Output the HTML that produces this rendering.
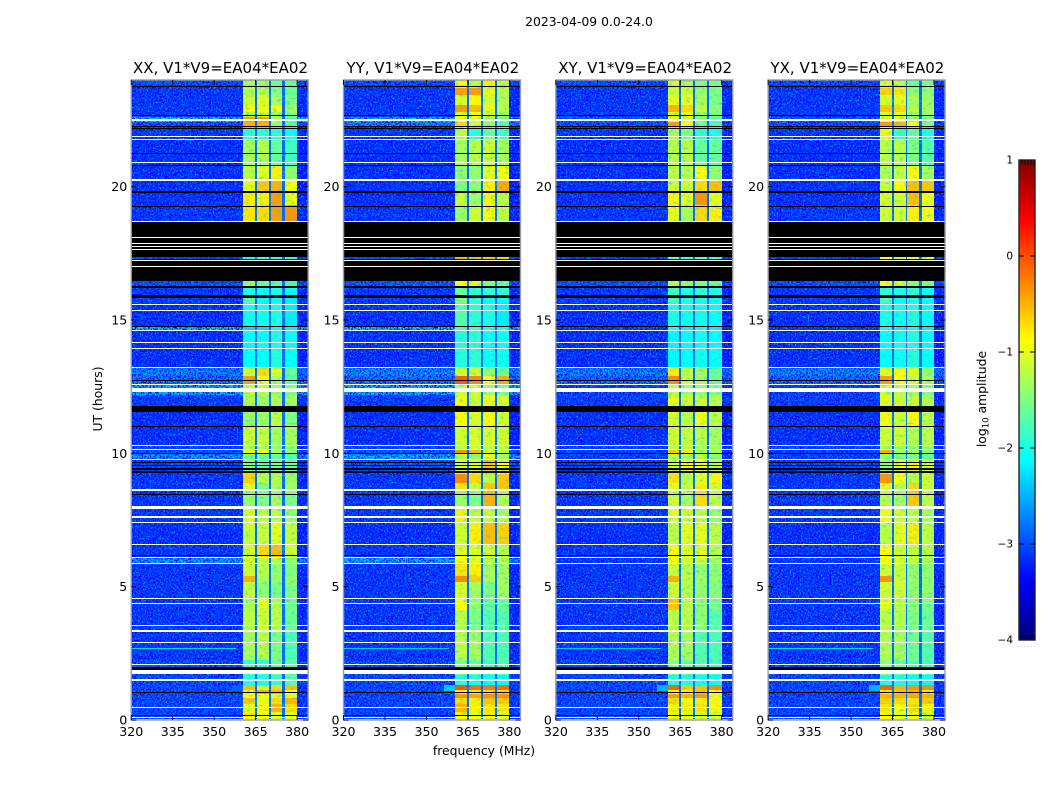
<!DOCTYPE html>
<html><head><meta charset="utf-8"><title>Spectrogram</title>
<style>
html,body{margin:0;padding:0;background:#fff;width:1050px;height:800px;overflow:hidden}
svg{display:block}
text{font-family:"DejaVu Sans","Liberation Sans",sans-serif;fill:#000}
</style></head>
<body>
<svg id="fig" xmlns="http://www.w3.org/2000/svg" width="1050" height="800" viewBox="0 0 1050 800">
<defs>
<filter id="speckle" x="0" y="0" width="1" height="1" color-interpolation-filters="sRGB">
<feTurbulence type="fractalNoise" baseFrequency="0.62 0.5" numOctaves="2" seed="7"/>
<feColorMatrix type="matrix" values="0 0 0 0 0  0 0 0 0 0.6  0 0 0 0 1  0 5 0 0 -2.6"/>
</filter>
<filter id="speckle-dark" x="0" y="0" width="1" height="1" color-interpolation-filters="sRGB">
<feTurbulence type="fractalNoise" baseFrequency="0.6 0.55" numOctaves="2" seed="21"/>
<feColorMatrix type="matrix" values="0 0 0 0 0  0 0 0 0 0  0 0 0 0 1  0 5 0 0 -2.3"/>
</filter>
<filter id="channel-mottle" x="0" y="0" width="1" height="1" color-interpolation-filters="sRGB">
<feTurbulence type="fractalNoise" baseFrequency="0.22 0.4" numOctaves="2" seed="11"/>
<feColorMatrix type="matrix" values="0 0 0 0 0.1  0 0 0 0 0.8  0 0 0 0 0.85  0 2 0 0 -1.1"/>
</filter>
</defs>
<rect width="1050" height="800" fill="#fff"/>
<text x="589" y="26" font-size="12.4" text-anchor="middle">2023-04-09 0.0-24.0</text>
<text x="102" y="399" font-size="12.4" text-anchor="middle" transform="rotate(-90 102 399)">UT (hours)</text>
<text x="484" y="755" font-size="12.4" text-anchor="middle">frequency (MHz)</text>
<text x="986" y="399" font-size="12.4" text-anchor="middle" transform="rotate(-90 986 399)">log<tspan font-size="8.5" dy="2.5">10</tspan><tspan dy="-2.5"> amplitude</tspan></text>
<g id="panels"></g>
<g id="colorbar"></g>
<text x="1017" y="647" font-size="7" fill="#888" style="fill:#999;letter-spacing:1.1px">......</text>
</svg>
<script>
// Frequency channel edges (MHz): background, ch1, gap, ch2, gap, ch3, gap, ch4, background
const freqEdges = [320, 360.5, 364.7, 365.4, 369.7, 370.4, 374.7, 375.5, 380, 384];
const gapLevel = -2.85;
// UT edges (hours) of the time segments, top to bottom
const utEdges = [24,23.81,23.7,23.44,23.06,22.8,22.61,22.42,22.27,21.75,20.81,20.25,19.84,19.31,18.68,17.36,17.27,16.46,16.27,15.86,15.64,14.74,14.62,13.2,12.9,12.6,12.19,11.78,11.55,11.03,10.28,10.13,9.98,9.79,9.23,8.89,8.66,8.03,7.43,6.6,6.08,5.87,5.4,5.18,4.58,4.13,3.38,2.25,1.99,1.69,1.31,1.13,0.98,0.83,0.6,0.3,0];
// log10 amplitude per segment: [background, ch1, ch2, ch3, ch4]
const xxLevels = [
[-2.9,-1.3,-1.3,-1.6,-1.6],[-3.05,-1.5,-1.4,-1.7,-1.7],[-3.05,-1.25,-1.2,-1.45,-1.6],[-3.05,-1.1,-1.05,-1.3,-1.5],[-3.05,-.85,-.95,-.9,-1.3],[-3.05,-1.2,-1.1,-1.3,-1.5],
[-2.2,-.4,-.4,-1.2,-1.7],[-2.9,-.5,-.5,-1.3,-1.7],[-3.05,-1.9,-1.9,-1.9,-2.1],[-3.1,-1.3,-1.25,-1.6,-1.8],[-3.1,-1.2,-1,-.8,-1.4],[-3.1,-1,-.6,-.5,-.9],
[-3.1,-.8,-.8,-.4,-.95],[-3.05,-.75,-.7,-.4,-.35],[-3.05,-2,-2,-2,-2],[-3,-2,-1.8,-1.8,-1.9],[-3.05,-2,-2,-2,-2],[-2.9,-1.3,-1.6,-1.7,-1.8],
[-3.05,-2,-2.1,-2,-2.1],[-3,-1.7,-2.1,-2.1,-2.2],[-3.1,-2.05,-2.05,-2,-2.2],[-2.35,-2.3,-2.3,-2.1,-2.2],[-3.1,-2.1,-2.1,-1.95,-2.1],[-2.6,-1.1,-.7,-1,-1.6],
[-2.7,-.4,-.95,-1.3,-1.7],[-2.4,-1.2,-1.2,-1.3,-1.5],[-3,-1.25,-1.35,-1.25,-1.3],[-3,-1.3,-1.3,-1.3,-1.3],[-3.1,-1.35,-1.35,-1.15,-1.5],[-3.1,-1.1,-1.15,-1.3,-1.3],
[-3,-1.3,-1.3,-1.4,-1.4],[-2.9,-.9,-.9,-1.3,-1.4],[-2.5,-1.5,-1.6,-1.6,-1.7],[-3,-1.5,-1.6,-1.5,-1.6],[-3.05,-.65,-1.2,-1.2,-1.35],[-3.05,-1,-1.5,-1.3,-1.35],
[-3.05,-1.4,-1.5,-1.3,-1.5],[-3.05,-1.05,-1.2,-1.2,-1.4],[-3.1,-1.15,-1.15,-1,-1.15],[-3.05,-1.1,-.7,-.55,-1.1],[-2.45,-1,-1.2,-1.2,-1.4],[-3.05,-1.1,-1.2,-1.4,-1.5],
[-3.05,-.5,-1.3,-1.35,-1.4],[-3.05,-1.2,-1.4,-1.5,-1.5],[-3.05,-1.25,-1,-1.25,-1.55],[-3.05,-1.2,-1.1,-1.2,-1.6],[-3.05,-1.3,-1.2,-1.5,-1.75],[-2.9,-1.8,-1.9,-1.6,-1.7],
[-2.95,-1.8,-1.9,-1.6,-1.7],[-2.95,-2,-2,-1.85,-1.7],[-2.95,-.55,-1.05,-.7,-.55],[-2.95,-1,-.45,-.5,-.9],[-2.95,-.85,-.9,-1,-1],[-2.95,-.6,-1,-.7,-.5],[-2.95,-1,-.9,-.5,-.7],[-2.95,-.8,-.9,-1,-1]
];
const yyLevels = [
[-2.9,-.9,-1.2,-.8,-1.2],[-3.05,-1.1,-1.3,-1.2,-1.5],[-3.05,-.4,-.4,-1,-1.2],[-3.05,-1.05,-.85,-1.05,-1.25],[-3.05,-.4,-.55,-1,-1.2],[-3.05,-1,-.9,-1.1,-1.3],
[-2.35,-.9,-1,-1.4,-1.6],[-2.6,-.7,-1,-1.4,-1.7],[-3.05,-1.2,-1.9,-1.6,-1.8],[-3.1,-1.3,-1.2,-1.1,-1.3],[-3.1,-1.4,-1.4,-1,-.9],[-3.1,-1.5,-1.4,-.8,-.45],
[-3.1,-1.15,-1.35,-.85,-1.2],[-3.05,-1.35,-1.1,-.85,-1.2],[-3.05,-2,-2,-2,-2],[-2.9,-.5,-.55,-.6,-.65],[-3.05,-2,-2,-2,-2],[-2.85,-.9,-1,-1.5,-1.6],
[-3.05,-1.6,-1.9,-1.9,-1.9],[-3,-1.5,-1.9,-2.1,-2.1],[-3.1,-1.7,-1.9,-2,-2.2],[-2.35,-1.7,-1.8,-2,-2],[-3.1,-1.95,-1.9,-2.05,-2.05],[-2.55,-1.1,-1.1,-1.4,-1.6],
[-2.7,-.05,-.3,-.9,-.45],[-2.4,-1.1,-1.1,-1.3,-1.5],[-3,-.95,-1.15,-.95,-1.05],[-3,-1.2,-1.2,-1.2,-1.2],[-3.1,-.9,-1.05,-.85,-1.1],[-3.1,-1.1,-1.05,-1.05,-1.1],
[-3,-1.2,-1.1,-1.2,-1.2],[-2.85,-.35,-.55,-1.1,-1.2],[-2.4,-1.2,-1.4,-1,-1.3],[-2.9,-1.1,-1,-.6,-.9],[-3.05,-.3,-.7,-1.2,-.6],[-3.05,-.75,-1.1,-.6,-.6],
[-3.05,-1.35,-1.5,-.5,-1.25],[-3.05,-.8,-1.15,-1.15,-1.3],[-3.1,-1.1,-.8,-.55,-.65],[-3.05,-1,-1,-1.1,-1.2],[-2.4,-.9,-1,-1.2,-1.2],[-3.05,-.75,-.8,-1.3,-1.3],
[-3.05,-.3,-.65,-1.3,-1.3],[-3.05,-1.05,-1.3,-1.5,-1.3],[-3.05,-.9,-1.4,-1.6,-1.6],[-3.05,-1.2,-1.5,-1.7,-1.7],[-3.05,-1.2,-1.3,-1.7,-1.75],[-2.9,-1.5,-1.6,-1.8,-1.7],
[-2.95,-1.6,-1.7,-1.8,-1.8],[-2.95,-2,-2,-2.1,-2.1],[-2.95,-.02,-.15,-.2,-.15],[-2.95,-.8,-.8,-.7,-.7],[-2.95,-.35,-.45,-.35,-.35],[-2.95,-.7,-.8,-.6,-.6],[-2.95,-.5,-.8,-.75,-.75],[-2.95,-.8,-.95,-.8,-1]
];
const xyLevels = [
[-2.9,-1.1,-1.3,-1.5,-1.5],[-3.05,-1.4,-1.4,-1.6,-1.6],[-3.05,-1.1,-1.1,-1.4,-1.5],[-3.05,-1,-1,-1.3,-1.5],[-3.05,-.5,-.7,-1.2,-1.4],[-3.05,-1.1,-1,-1.3,-1.5],
[-2.8,-1,-1.1,-1.6,-1.7],[-2.9,-.4,-.9,-1.5,-1.8],[-3.05,-1.3,-1.5,-1.9,-2],[-3.1,-1.2,-1.2,-1.6,-1.6],[-3.1,-1.2,-1.2,-.9,-1.4],[-3.1,-1.1,-1.1,-.7,-.55],
[-3.1,-.85,-1,-.35,-1],[-3.05,-.95,-1.3,-.7,-.8],[-3.05,-2,-2,-2,-2],[-3,-1.6,-1.8,-1.6,-1.7],[-3.05,-2,-2,-2,-2],[-2.9,-1.2,-1.4,-1.5,-1.6],
[-3.05,-1.8,-2,-1.9,-2],[-3,-1.8,-2,-2,-2.1],[-3.1,-2,-2.05,-2.05,-2.1],[-3.05,-2,-2.2,-2.1,-2.2],[-3.1,-2.15,-2.1,-2.05,-2.1],[-2.6,-.8,-1.2,-1.3,-1.6],
[-2.75,-.3,-1.1,-1.3,-1.6],[-3,-1.2,-1.3,-1.4,-1.5],[-3,-1,-1.1,-1.1,-1.2],[-3,-1.2,-1.2,-1.2,-1.2],[-3.1,-1.05,-1.2,-.95,-1.2],[-3.1,-1.1,-1.15,-1.2,-1.3],
[-3,-1.2,-1.2,-1.3,-1.3],[-3,-.6,-.8,-1.2,-1.3],[-3,-1.2,-1.3,-1.2,-1.4],[-3,-1.1,-.9,-.9,-1.2],[-3.05,-.75,-1.2,-1,-.85],[-3.05,-1,-1.1,-.8,-1.1],
[-3.05,-1.1,-1.3,-.7,-1.2],[-3.05,-1,-1.1,-1.2,-1.4],[-3.1,-1.2,-1,-1,-1.2],[-3.05,-.85,-1,-1,-1.2],[-3.05,-.9,-1.05,-1.1,-1.3],[-3.05,-1.15,-1.2,-1.4,-1.4],
[-3.05,-.5,-1.2,-1.35,-1.4],[-3.05,-1.1,-1.2,-1.4,-1.45],[-3.05,-.6,-1.2,-1.4,-1.5],[-3.05,-1.2,-1.2,-1.4,-1.7],[-3.05,-1.25,-1.3,-1.7,-1.75],[-2.95,-1.5,-1.6,-1.7,-1.8],
[-2.95,-1.6,-1.7,-1.8,-1.8],[-2.95,-2,-2,-2.1,-2.1],[-2.95,-.1,-.6,-.55,-.3],[-2.95,-.9,-.8,-.6,-.9],[-2.95,-.4,-.5,-.4,-.85],[-2.95,-.7,-.85,-.8,-.85],[-2.95,-.8,-.8,-.75,-.85],[-2.95,-.9,-1,-1,-1.1]
];
const yxLevels = [
[-2.9,-1.1,-1.2,-1.6,-1.5],[-3.05,-1.2,-1.4,-1.6,-1.6],[-3.05,-.65,-.75,-1.4,-1.4],[-3.05,-1.1,-1,-1.3,-1.35],[-3.05,-.6,-.7,-1.2,-1.3],[-3.05,-1.1,-1,-1.3,-1.4],
[-2.8,-.9,-1,-1.4,-1.6],[-2.9,-.4,-.5,-.9,-1.5],[-3.05,-1,-1.9,-1.6,-2],[-3.1,-1.2,-1.2,-1.5,-1.7],[-3.1,-1.25,-1.15,-.85,-1.3],[-3.1,-1.15,-.9,-.55,-.6],
[-3.1,-1.05,-1.1,-.55,-.95],[-3.05,-1.1,-1.1,-.8,-.9],[-3.05,-2,-2,-2,-2],[-3,-.9,-1.2,-1,-1.1],[-3.05,-2,-2,-2,-2],[-2.9,-.9,-1.1,-1.4,-1.5],
[-3.05,-1.9,-2,-1.9,-2.1],[-3,-1.8,-2.1,-2,-2.1],[-3.1,-2,-2.05,-1.95,-2.1],[-3.05,-2.1,-2.2,-2.1,-2.2],[-3.1,-2.1,-2.05,-1.95,-2.1],[-2.6,-1,-.85,-1,-1.4],
[-2.75,-.4,-.9,-1.1,-1.3],[-3,-1.1,-1.2,-1.3,-1.5],[-3,-1,-1.1,-1.1,-1.2],[-3,-1.2,-1.2,-1.2,-1.2],[-3.1,-.95,-1.15,-.85,-1.2],[-3.1,-1.1,-1.1,-1.25,-1.2],
[-3,-1.3,-1.3,-1.4,-1.4],[-3,-.5,-1.3,-1.3,-1.4],[-3,-1.4,-1.5,-1.5,-1.6],[-3,-1.4,-.9,-.8,-1.1],[-3.05,-.35,-.9,-1.2,-1.1],[-3.05,-1,-1.2,-.7,-1.1],
[-3.05,-1.2,-1.3,-.6,-1.2],[-3.05,-.95,-1.1,-1.2,-1.3],[-3.1,-1.2,-1,-.8,-1.2],[-3.05,-.9,-1.1,-1.15,-1.2],[-3.05,-.9,-1.05,-1.15,-1.3],[-3.05,-1.1,-1.15,-1.4,-1.4],
[-3.05,-.35,-1.1,-1.35,-1.4],[-3.05,-1.1,-1.1,-1.4,-1.4],[-3.05,-1,-1.2,-1.4,-1.5],[-3.05,-1.2,-1.25,-1.5,-1.6],[-3.05,-1.25,-1.3,-1.55,-1.7],[-2.95,-1.4,-1.6,-1.7,-1.8],
[-2.95,-1.5,-1.7,-1.8,-1.8],[-2.95,-2,-2,-2.1,-2.1],[-2.95,-.1,-.5,-.35,-.3],[-2.95,-.8,-.6,-.5,-.75],[-2.95,-.5,-.5,-.45,-.5],[-2.95,-.65,-.7,-.75,-.6],[-2.95,-.75,-.85,-.7,-.8],[-2.95,-.85,-1,-.95,-1.1]
];
// Flagged time ranges [startUT, endUT]: black = no data, white = masked
const blackFlags = [[23.77,23.74],[22.69,22.65],[22.27,22.22],[22.2,22.16],[21.26,21.22],[20.81,20.77],[19.84,19.76],[19.28,19.24],[18.67,17.36],[17.27,16.46],[16.27,16.2],[15.92,15.84],[14.77,14.74],[12.75,12.71],[11.78,11.55],[11.03,10.99],[10.01,9.98],[9.68,9.64],[9.56,9.53],[9.45,9.38],[9.34,9.26],[8.47,8.44],[6.19,6.15],[1.99,1.89],[1.05,1.01],[0.19,0.15]];
const whiteFlags = [[22.54,22.46],[21.9,21.86],[21.79,21.75],[20.93,20.89],[20.27,20.23],[18.71,18.67],[18.11,18.08],[17.89,17.85],[17.78,17.74],[17.66,17.62],[17.25,17.21],[17.02,16.99],[15.6,15.56],[15.37,15.34],[14.62,14.59],[14.18,14.14],[13.95,13.91],[13.24,13.2],[12.6,12.56],[12.45,12.3],[10.31,10.28],[10.16,10.13],[9.79,9.75],[8.66,8.59],[8.03,7.91],[7.65,7.58],[7.43,7.39],[6.6,6.56],[6.11,6.08],[5.89,5.85],[4.58,4.54],[4.39,4.35],[3.56,3.53],[3.38,3.3],[2.92,2.89],[2.1,2.06],[1.87,1.72],[1.54,1.46],[0.49,0.45],[0.11,0.08],[0.04,0.01]];
// Narrow features: RFI streak and the shoulder below channel 1
const streakUT = [2.69, 2.65];
const streakFreq = [320, 358];
const streakLevels = [-2.3, -2.4, -2.4, -2.3];
const shoulderUT = [1.31, 1.1];
const shoulderFreq = [356.5, 360.5];
const shoulderLevels = [-2.9, -2.4, -2.5, -2.5];
// Panel titles and tick values
const panelTitles = ["XX, V1*V9=EA04*EA02","YY, V1*V9=EA04*EA02","XY, V1*V9=EA04*EA02","YX, V1*V9=EA04*EA02"];
const panelNames = ["xx","yy","xy","yx"];
const freqTicks = [320,335,350,365,380];
const utTicks = [0,5,10,15,20];
const colorbarTicks = [1,0,-1,-2,-3,-4];
const panelLevels = [xxLevels,yyLevels,xyLevels,yxLevels];

const NS = "http://www.w3.org/2000/svg";
const AX_WIDTH = 176.9, AX_PITCH = 212.3, AX_LEFT = 131.25, AX_TOP = 80, AX_BOTTOM = 720;
function yScale(ut){ return AX_BOTTOM - (ut/24)*(AX_BOTTOM-AX_TOP); }
function xScale(panel, f){ return AX_LEFT + panel*AX_PITCH + ((f-320)/64)*AX_WIDTH; }
function jet(level){
  const t = Math.max(0, Math.min(1, (level+4)/5));
  const ch = (a)=>Math.round(255*Math.max(0, Math.min(1, 1.5-Math.abs(4*t-a))));
  return "rgb("+ch(3)+","+ch(2)+","+ch(1)+")";
}
function mk(parent, tag, attrs){
  const el = document.createElementNS(NS, tag);
  for (const k in attrs) el.setAttribute(k, attrs[k]);
  parent.appendChild(el);
  return el;
}
function band(g, panel, f0, f1, u0, u1, fill){
  const x0 = Math.round(xScale(panel,f0)), x1 = Math.round(xScale(panel,f1));
  const y0 = Math.round(yScale(u0)), y1 = Math.max(y0+1, Math.round(yScale(u1)));
  return mk(g,"rect",{x:x0,y:y0,width:x1-x0,height:y1-y0,fill:fill,"shape-rendering":"crispEdges"});
}
const panelsRoot = document.getElementById("panels");
panelNames.forEach(function(name, p){
  const g = mk(panelsRoot,"g",{});
  
  
  const heat = mk(g,"g",{});
  
  
  panelLevels[p].forEach(function(row, s){
    const u0 = utEdges[s], u1 = utEdges[s+1];
    const seq = [row[0],row[1],gapLevel,row[2],gapLevel,row[3],gapLevel,row[4],row[0]-0.1];
    seq.forEach(function(level, b){
      const cell = band(heat,p,freqEdges[b],freqEdges[b+1],u0,u1,jet(level));
      
      
    });
  });
  // noise texture on the background bands and mottling on the channels
  [[320,360.5,"speckle"],[320,360.5,"speckle-dark"],[380,384,"speckle"],[380,384,"speckle-dark"],[360.5,380,"channel-mottle"]].forEach(function(r){
    const x0 = Math.round(xScale(p,r[0])), x1 = Math.round(xScale(p,r[1]));
    const n = mk(g,"rect",{x:x0,y:AX_TOP,width:x1-x0,height:AX_BOTTOM-AX_TOP,filter:"url(#"+r[2]+")"});
    
    
  });
  const streak = band(g,p,streakFreq[0],streakFreq[1],streakUT[0],streakUT[1],jet(streakLevels[p]));
  
  
  const shoulder = band(g,p,shoulderFreq[0],shoulderFreq[1],shoulderUT[0],shoulderUT[1],jet(shoulderLevels[p]));
  
  
  blackFlags.forEach(function(fl){
    const r = band(g,p,320,384,fl[0],fl[1],"#000");
    
    
  });
  whiteFlags.forEach(function(fl){
    const r = band(g,p,320,384,fl[0],fl[1],"#fff");
    
    
  });
  const left = xScale(p,320), right = xScale(p,384);
  const frame = mk(g,"rect",{x:left,y:AX_TOP,width:right-left,height:AX_BOTTOM-AX_TOP,fill:"none",stroke:"#9a9a9a","stroke-width":1.4});
  
  
  freqTicks.forEach(function(f){
    const x = xScale(p,f);
    mk(g,"path",{d:"M"+x+" "+AX_BOTTOM+"v-5M"+x+" "+AX_TOP+"v5",stroke:"#000","stroke-width":0.9});
    const t = mk(g,"text",{x:x,y:AX_BOTTOM+16,"font-size":12.6,"text-anchor":"middle"});
    t.textContent = String(f);
    
    
  });
  utTicks.forEach(function(u){
    const y = yScale(u);
    mk(g,"path",{d:"M"+left+" "+y+"h5M"+right+" "+y+"h-5",stroke:"#000","stroke-width":0.9});
    const t = mk(g,"text",{x:left-4,y:y+4.5,"font-size":12.6,"text-anchor":"end"});
    t.textContent = String(u);
    
    
  });
  const title = mk(g,"text",{x:(left+right)/2+0.8,y:73,"font-size":15,"text-anchor":"middle"});
  title.textContent = panelTitles[p];
  
  
});

// Colorbar
const CB_X = 1019, CB_W = 16, CB_TOP = 160, CB_BOTTOM = 640;
function cbScale(level){ return CB_BOTTOM - ((level+4)/5)*(CB_BOTTOM-CB_TOP); }
const cb = document.getElementById("colorbar");
for (let py = CB_TOP; py < CB_BOTTOM; py += 2){
  const level = 1 - ((py + 1 - CB_TOP)/(CB_BOTTOM-CB_TOP))*5;
  const s = mk(cb,"rect",{x:CB_X,y:py,width:CB_W,height:2,fill:jet(level),"shape-rendering":"crispEdges"});
  
  
}
const cbFrame = mk(cb,"rect",{x:CB_X,y:CB_TOP,width:CB_W,height:CB_BOTTOM-CB_TOP,fill:"none",stroke:"#222","stroke-width":1.4});


colorbarTicks.forEach(function(v){
  const y = cbScale(v);
  if (v !== 1 && v !== -4) {
    const d = mk(cb,"path",{d:"M"+CB_X+" "+y+"h5M"+(CB_X+CB_W)+" "+y+"h-5",stroke:"#000","stroke-width":0.9});
    
    
  }
  const t = mk(cb,"text",{x:CB_X-6,y:y+3.5,"font-size":10.5,"text-anchor":"end"});
  t.textContent = String(v).replace("-","\u2212");
  
  
});
[3,6,9,12,15].forEach(function(dx){
  const m = mk(cb,"path",{d:"M"+(CB_X+dx)+" "+CB_TOP+"v5M"+(CB_X+dx)+" "+CB_BOTTOM+"v-5",stroke:"#000","stroke-width":0.8});
  
  
});
</script>
</body></html>
